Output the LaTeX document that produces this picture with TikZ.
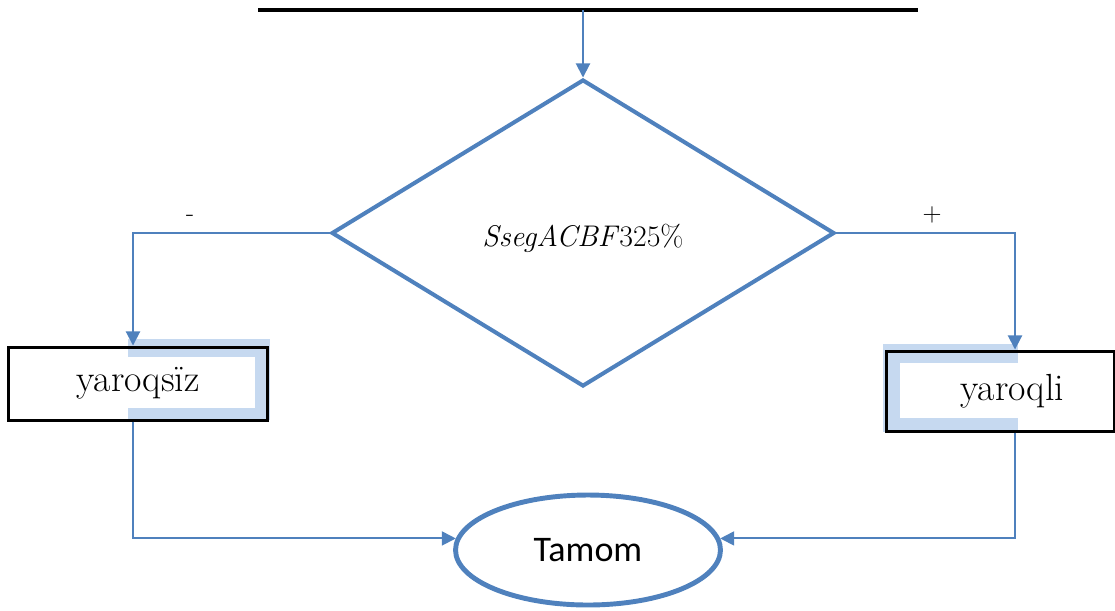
\documentclass[tikz,border=0pt]{standalone}
\usepackage{fontspec}
\usetikzlibrary{shapes.geometric,arrows.meta}
\newfontfamily\calibfont{Carlito}
\definecolor{officeblue}{RGB}{79,129,189}
\definecolor{shadeblue}{RGB}{198,217,240}

\begin{document}
\begin{tikzpicture}[x=0.02cm,y=-0.02cm,
  flow/.style={officeblue, line width=1.1pt, -{Triangle[width=8pt,length=8pt]}},
  decision/.style={diamond, draw=officeblue, line width=2.3pt, inner sep=0pt,
    minimum width=10.06cm, minimum height=6.14cm, font=\fontsize{17}{19}\selectfont},
  resultbox/.style={rectangle, draw=black, line width=1.7pt, inner sep=0pt,
    font=\fontsize{21.5}{24}\selectfont},
  endnode/.style={ellipse, draw=officeblue, line width=2.8pt, inner sep=0pt,
    minimum width=5.3cm, minimum height=2.2cm, font=\calibfont\fontsize{20.5}{24}\selectfont},
  signlabel/.style={font=\fontsize{15}{17}\selectfont, inner sep=1pt}]

\useasboundingbox (0,0) rectangle (1115,610);

% top line
\draw[line width=2.8pt] (258,10) -- (918,10);
\coordinate (start) at (582,10);
\coordinate (lx) at (133,0);
\coordinate (rx) at (1015,0);

% condition
\node[decision] (cond) at (583,233) {\raisebox{-7.4pt}[0pt][0pt]{\textit{SsegACBF}325\%}};

% shadows behind the result boxes
\fill[shadeblue] (128,339) rectangle (270,420);
\fill[white] (128,357) rectangle (255,408);
\fill[shadeblue] (883,344) rectangle (1018,432);
\fill[white] (900,363) rectangle (1018,418);

% results
\node[resultbox, minimum width=5.2cm, minimum height=1.46cm] (nobox) at (138,383.5) {yaroqsïz};
\node[resultbox, minimum width=4.56cm, minimum height=1.6cm] (okbox) at (1000,391) {\hspace{14pt}yaroqli};

% end
\node[endnode] (tamom) at (588,550) {Tamom};

% branch signs
\node[signlabel] (minus) at (190,218) {-};
\node[signlabel] (plus) at (932,215) {+};

% connectors
\draw[flow] (cond.north |- start) -- (cond.north);
\draw[flow] (cond.west) -| (nobox.north -| lx);
\draw[flow] (cond.east) -| (okbox.north -| rx);
\draw[flow] (nobox.south -| lx) |- (tamom.175);
\draw[flow] (okbox.south -| rx) |- (tamom.5);

\end{tikzpicture}
\end{document}
